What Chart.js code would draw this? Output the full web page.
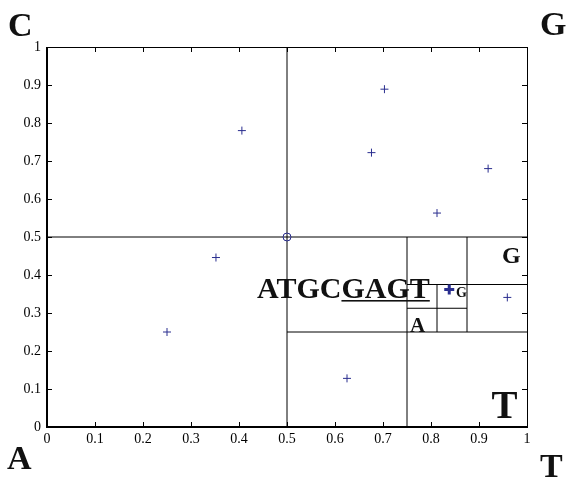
<!DOCTYPE html>
<html>
<head>
<meta charset="utf-8">
<script src="https://cdn.jsdelivr.net/npm/chart.js@4"></script>
<style>
  html, body { margin: 0; padding: 0; background: #fff; }
  #wrap { width: 566px; height: 479px; position: relative; }
</style>
</head>
<body>
<div id="wrap"><canvas id="c" width="566" height="479"></canvas></div>
<script>
// ---- data ----
const sequence = 'ATGCGAGT';
const pointX = [0.25, 0.625, 0.8125, 0.406, 0.703, 0.352, 0.676, 0.919, 0.959];
const pointY = [0.25, 0.128, 0.563, 0.780, 0.889, 0.446, 0.722, 0.680, 0.341];
const lastX = [0.838];
const lastY = [0.362];
const startX = [0.5];
const startY = [0.5];
// quadtree partition lines: [fixed, from, to]
const vLines = [[0.5, 0, 1], [0.75, 0, 0.5], [0.875, 0.25, 0.5], [0.8125, 0.25, 0.375]];
const hLines = [[0.5, 0, 1], [0.25, 0.5, 1], [0.375, 0.75, 1], [0.3125, 0.75, 0.875]];
const tickValues = [0, 0.1, 0.2, 0.3, 0.4, 0.5, 0.6, 0.7, 0.8, 0.9, 1];
const tickLabels = ['0', '0.1', '0.2', '0.3', '0.4', '0.5', '0.6', '0.7', '0.8', '0.9', '1'];

const SERIF = '"Liberation Serif", "DejaVu Serif", serif';
const BLUE = '#2a2e8f';
const LINE = '#000';

const datasets = [];
vLines.forEach(l => datasets.push({
  type: 'line', data: [{x: l[0], y: l[1]}, {x: l[0], y: l[2]}],
  borderColor: LINE, borderWidth: 1, pointRadius: 0, fill: false, order: 2
}));
hLines.forEach(l => datasets.push({
  type: 'line', data: [{x: l[1], y: l[0]}, {x: l[2], y: l[0]}],
  borderColor: LINE, borderWidth: 1, pointRadius: 0, fill: false, order: 2
}));
datasets.push({
  data: pointX.map((x, i) => ({x, y: pointY[i]})),
  pointStyle: 'cross', pointRadius: 4, borderColor: BLUE, borderWidth: 1, order: 1
});
datasets.push({
  data: lastX.map((x, i) => ({x, y: lastY[i]})),
  pointStyle: 'cross', pointRadius: 5, borderColor: BLUE, borderWidth: 3, order: 1
});
datasets.push({
  data: startX.map((x, i) => ({x, y: startY[i]})),
  pointStyle: 'circle', pointRadius: 4, borderColor: BLUE, backgroundColor: 'rgba(0,0,0,0)', borderWidth: 1, order: 1
});

// annotation texts in data coordinates
const notes = [
  {text: sequence, x: 0.4375, y: 0.3395, size: 30, underlineFrom: 4},
  {text: 'G', x: 0.948, y: 0.4316, size: 24},
  {text: 'G', x: 0.852, y: 0.342, size: 14},
  {text: 'A', x: 0.756, y: 0.250, size: 21},
  {text: 'T', x: 0.926, y: 0.0237, size: 39}
];
// corner letters (canvas-level labels)
const corners = [
  {text: 'C', px: 8, py: 36}, {text: 'G', px: 540, py: 35},
  {text: 'A', px: 7, py: 469}, {text: 'T', px: 540, py: 477}
];

const framePlugin = {
  id: 'frame',
  afterDatasetsDraw(chart) {
    const {ctx, chartArea: a, scales: {x, y}} = chart;
    ctx.save();
    ctx.strokeStyle = '#000';
    // ticks (inward, all four sides)
    ctx.lineWidth = 1;
    tickValues.forEach(v => {
      const px = Math.round(x.getPixelForValue(v)) + 0.5;
      const py = Math.round(y.getPixelForValue(v)) + 0.5;
      ctx.beginPath();
      ctx.moveTo(px, a.bottom); ctx.lineTo(px, a.bottom - 5);
      ctx.moveTo(px, a.top); ctx.lineTo(px, a.top + 5);
      ctx.moveTo(a.left, py); ctx.lineTo(a.left + 5, py);
      ctx.moveTo(a.right, py); ctx.lineTo(a.right - 5, py);
      ctx.stroke();
    });
    // top & right thin border
    ctx.lineWidth = 1;
    ctx.beginPath();
    ctx.moveTo(a.left, a.top + 0.5); ctx.lineTo(a.right + 0.5, a.top + 0.5);
    ctx.lineTo(a.right + 0.5, a.bottom);
    ctx.stroke();
    // left & bottom thick border
    ctx.lineWidth = 2;
    ctx.beginPath();
    ctx.moveTo(a.left, a.top); ctx.lineTo(a.left, a.bottom); ctx.lineTo(a.right + 1, a.bottom);
    ctx.stroke();

    // annotations
    ctx.fillStyle = '#111';
    ctx.textBaseline = 'alphabetic';
    ctx.textAlign = 'left';
    notes.forEach(n => {
      ctx.font = 'bold ' + n.size + 'px ' + SERIF;
      const px = x.getPixelForValue(n.x), py = y.getPixelForValue(n.y);
      ctx.fillText(n.text, px, py);
      if (n.underlineFrom !== undefined) {
        const w0 = ctx.measureText(n.text.slice(0, n.underlineFrom)).width;
        const w1 = ctx.measureText(n.text).width;
        ctx.fillRect(px + w0, py + 2, w1 - w0, 1.6);
      }
    });
    ctx.font = 'bold 34px ' + SERIF;
    corners.forEach(c => ctx.fillText(c.text, c.px, c.py));
    ctx.restore();
  }
};

new Chart(document.getElementById('c'), {
  type: 'scatter',
  data: {datasets},
  options: {
    responsive: false,
    animation: false,
    events: [],
    layout: {padding: {left: 0, right: 39, top: 47, bottom: 0}},
    plugins: {legend: {display: false}, tooltip: {enabled: false}},
    scales: {
      x: {
        type: 'linear', min: 0, max: 1,
        afterBuildTicks: s => { s.ticks = tickValues.map(v => ({value: v})); },
        afterFit: s => { s.height = 52; },
        grid: {display: false, drawTicks: false, tickLength: 0}, border: {display: false},
        ticks: {
          autoSkip: false, maxRotation: 0, padding: 4, color: '#000',
          font: {family: SERIF, size: 14},
          callback: (v, i) => tickLabels[i]
        }
      },
      y: {
        type: 'linear', min: 0, max: 1,
        afterBuildTicks: s => { s.ticks = tickValues.map(v => ({value: v})); },
        afterFit: s => { s.width = 47; },
        grid: {display: false, drawTicks: false, tickLength: 0}, border: {display: false},
        ticks: {
          autoSkip: false, padding: 6, color: '#000',
          font: {family: SERIF, size: 14},
          callback: (v, i) => tickLabels[i]
        }
      }
    }
  },
  plugins: [framePlugin]
});
</script>
</body>
</html>
